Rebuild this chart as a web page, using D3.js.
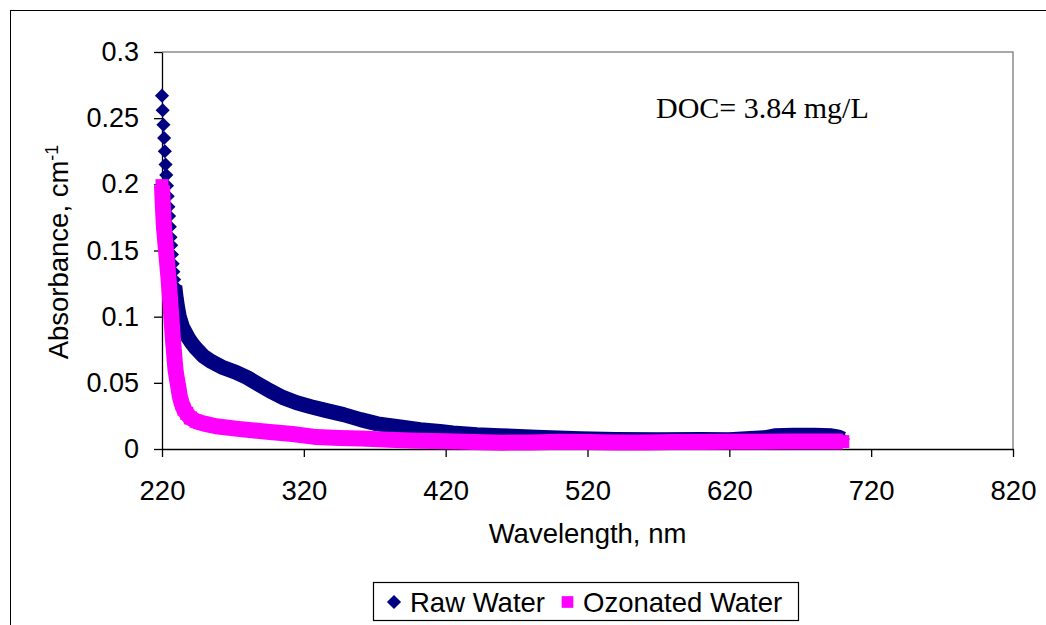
<!DOCTYPE html>
<html>
<head>
<meta charset="utf-8">
<script src="https://cdn.jsdelivr.net/npm/d3@7"></script>
<style>
  body { margin: 0; background: #fff; }
  svg text { font-family: "Liberation Sans", Arial, sans-serif; fill: #000; }
</style>
</head>
<body>
<svg id="chart" width="1046" height="625"></svg>
<script>
// values
const rawWavelength = [220, 220.5, 221, 221.5, 222, 222.5, 223, 223.5, 224, 224.5, 225, 225.5, 226, 226.5,
  227, 227.5, 228, 228.5, 229, 230, 231, 232, 233, 234.5, 236.5, 238.5, 241, 244, 249, 255, 262, 272,
  280, 288, 296, 305, 315, 325, 336, 348, 360, 372, 388, 402, 416, 425, 442, 458, 484, 515, 540, 570,
  600, 620, 635, 645, 652, 665, 680, 692, 697, 700];
const rawAbsorbance = [0.267, 0.256, 0.245, 0.235, 0.225, 0.215, 0.207, 0.199, 0.191, 0.183, 0.176, 0.168, 0.160, 0.154,
  0.147, 0.140, 0.134, 0.128, 0.123, 0.114, 0.107, 0.101, 0.097, 0.092, 0.088, 0.084, 0.080, 0.076, 0.0703, 0.066, 0.062, 0.058,
  0.054, 0.049, 0.044, 0.039, 0.035, 0.032, 0.029, 0.026, 0.0222, 0.019, 0.0166, 0.0146, 0.0133, 0.0121, 0.0108, 0.0101, 0.0088, 0.0078, 0.0072, 0.0070,
  0.0072, 0.0070, 0.0080, 0.0085, 0.0100, 0.0104, 0.0103, 0.0100, 0.0090, 0.0075];

const ozoWavelength = [220, 220.5, 221, 221.5, 222, 222.5, 223, 223.5, 224, 224.5, 225, 225.5, 226, 226.5,
  227, 227.5, 228, 228.5, 229, 229.5, 230.5, 231.5, 232.5, 233.9, 235.5, 237.4, 240, 244, 249, 258, 272,
  285, 296, 312, 329, 345, 360, 380, 400, 420, 440, 460, 480, 500, 520, 540, 560, 580, 600, 620, 640,
  660, 680, 700];
const ozoAbsorbance = [0.199, 0.186, 0.175, 0.166, 0.160, 0.154, 0.148, 0.142, 0.136, 0.130, 0.123, 0.116, 0.109, 0.101,
  0.094, 0.086, 0.079, 0.073, 0.066, 0.060, 0.053, 0.047, 0.040, 0.0345, 0.030, 0.027, 0.0235, 0.021, 0.0194, 0.0172, 0.0154,
  0.0140, 0.0128, 0.0113, 0.0090, 0.0083, 0.0079, 0.0070, 0.0063, 0.0058, 0.0052, 0.0048, 0.0050, 0.0055, 0.0052, 0.0050, 0.0050, 0.0052, 0.0053, 0.0054, 0.0055,
  0.0056, 0.0056, 0.0056];

const xTicks = [220, 320, 420, 520, 620, 720, 820];
const yTicks = [0, 0.05, 0.1, 0.15, 0.2, 0.25, 0.3];
const seriesNames = ["Raw Water", "Ozonated Water"];

const navy = "#000080";
const magenta = "#ff00ff";
const fontSize = 27.5;

const rawData = rawWavelength.map((w, i) => ({ w, v: rawAbsorbance[i] }));
const ozoData = ozoWavelength.map((w, i) => ({ w, v: ozoAbsorbance[i] }));

const svg = d3.select("#chart");

// outer chart frame (runs off the right and bottom edges)
svg.append("rect")
  .attr("x", 10.5).attr("y", 10.5)
  .attr("width", 1100).attr("height", 700)
  .attr("fill", "none").attr("stroke", "#000").attr("stroke-width", 1);

const xScale = d3.scaleLinear().domain([220, 820]).range([162, 1013]);
const yScale = d3.scaleLinear().domain([0, 0.3]).range([449, 52]);

// plot area border: grey top and right
svg.append("path")
  .attr("d", `M${xScale(220)},${yScale(0.3)}H${xScale(820)}V${yScale(0)}`)
  .attr("fill", "none").attr("stroke", "#8c8c8c").attr("stroke-width", 1.5);

const bottomAxis = d3.axisBottom(xScale)
  .tickValues(xTicks).tickSize(8).tickSizeOuter(0).tickPadding(23)
  .tickFormat(d3.format("d"));
const leftAxis = d3.axisLeft(yScale)
  .tickValues(yTicks).tickSize(8).tickSizeOuter(0).tickPadding(15)
  .tickFormat(d => +d.toFixed(2));

const gx = svg.append("g").attr("class", "axis-x")
  .attr("transform", `translate(0,${yScale(0)})`).call(bottomAxis);
const gy = svg.append("g").attr("class", "axis-y")
  .attr("transform", `translate(${xScale(220)},0)`).call(leftAxis);

[gx, gy].forEach(g => {
  g.select(".domain").attr("stroke", "#000").attr("stroke-width", 1.3);
  g.selectAll(".tick line").attr("stroke", "#000").attr("stroke-width", 1.3);
  g.selectAll("text")
    .attr("font-family", "Liberation Sans, Arial, sans-serif")
    .style("font-size", `${fontSize}px`).attr("fill", "#000");
});
gy.selectAll("text").style("font-size", "27px");

// series: dense markers look like a thick band, so draw the band then the markers
const lineGen = d3.line().x(d => xScale(d.w)).y(d => yScale(d.v));
const diamond = d3.symbol(d3.symbolSquare, 100)();
const square = d3.symbol(d3.symbolSquare, 169)();

svg.append("path")
  .datum(rawData.filter(d => d.w >= 229))
  .attr("d", lineGen)
  .attr("fill", "none").attr("stroke", navy)
  .attr("stroke-width", 15).attr("stroke-linejoin", "round");

svg.append("g").selectAll("path")
  .data(rawData)
  .join("path")
  .attr("d", diamond)
  .attr("transform", d => `translate(${xScale(d.w)},${yScale(d.v)}) rotate(45)`)
  .attr("fill", navy);

svg.append("path")
  .datum(ozoData)
  .attr("d", lineGen)
  .attr("fill", "none").attr("stroke", magenta)
  .attr("stroke-width", 16).attr("stroke-linejoin", "round");

svg.append("g").selectAll("path")
  .data(ozoData)
  .join("path")
  .attr("d", square)
  .attr("transform", d => `translate(${xScale(d.w)},${yScale(d.v)})`)
  .attr("fill", magenta);

// axis titles
svg.append("text")
  .attr("x", 587.5).attr("y", 543)
  .attr("text-anchor", "middle")
  .style("font-size", `${fontSize}px`)
  .text("Wavelength, nm");

const yTitle = svg.append("text")
  .attr("transform", "translate(68,252) rotate(-90)")
  .attr("text-anchor", "middle")
  .style("font-size", `${fontSize}px`);
yTitle.append("tspan").text("Absorbance, cm");
yTitle.append("tspan").attr("dy", -10).style("font-size", "18px").text("-1");

// annotation
svg.append("text")
  .attr("x", 656).attr("y", 118)
  .style("font-family", "'Liberation Serif', 'Times New Roman', serif")
  .style("font-size", "30px")
  .text("DOC= 3.84 mg/L");

// legend
const legend = svg.append("g").attr("class", "legend");
legend.append("rect")
  .attr("x", 373.5).attr("y", 582.5).attr("width", 425).attr("height", 38)
  .attr("fill", "#fff").attr("stroke", "#000").attr("stroke-width", 1.2);
legend.append("path")
  .attr("d", d3.symbol(d3.symbolSquare, 100)())
  .attr("transform", "translate(394,602) rotate(45)")
  .attr("fill", navy);
legend.append("path")
  .attr("d", d3.symbol(d3.symbolSquare, 137)())
  .attr("transform", "translate(567.5,602)")
  .attr("fill", magenta);
legend.selectAll("text.label")
  .data(seriesNames)
  .join("text")
  .attr("class", "label")
  .attr("x", (d, i) => [410, 583][i])
  .attr("y", 612)
  .style("font-size", `${fontSize}px`)
  .text(d => d);
</script>
</body>
</html>
